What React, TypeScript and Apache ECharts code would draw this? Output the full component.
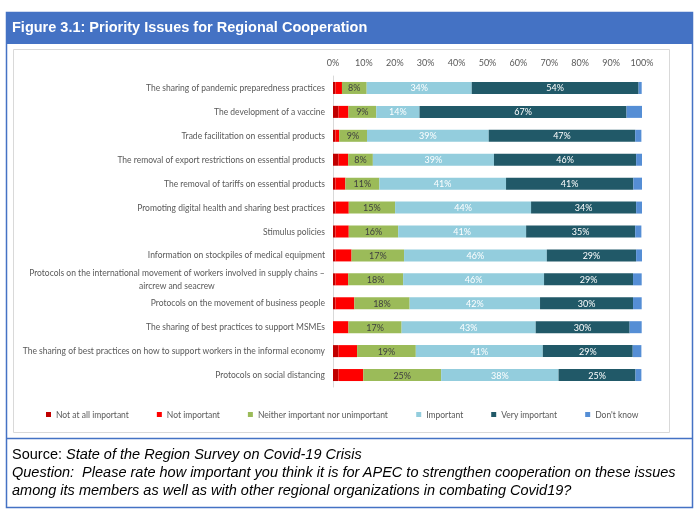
import React, { useEffect, useRef } from "react";
import * as echarts from "echarts";

const categories = [
  "The sharing of pandemic preparedness practices",
  "The development of a vaccine",
  "Trade facilitation on essential products",
  "The removal of export restrictions on essential products",
  "The removal of tariffs on essential products",
  "Promoting digital health and sharing best practices",
  "Stimulus policies",
  "Information on stockpiles of medical equipment",
  "Protocols on the international movement of workers involved in supply chains –\naircrew and seacrew",
  "Protocols on the movement of business people",
  "The sharing of best practices to support MSMEs",
  "The sharing of best practices on how to support workers in the informal economy",
  "Protocols on social distancing",
];

const xTicks = [0, 10, 20, 30, 40, 50, 60, 70, 80, 90, 100];

const seriesNames = [
  "Not at all important",
  "Not important",
  "Neither important nor unimportant",
  "Important",
  "Very important",
  "Don't know",
];

const notAtAll = [0.8, 1.8, 0.8, 1.8, 0.8, 0.8, 0.8, 0.8, 0.8, 0.8, 0, 1.8, 1.8];
const notImportant = [2.1, 3.2, 1.2, 3.1, 3.2, 4.3, 4.3, 5.2, 4.1, 6.1, 5, 6, 8];
const neither = [8, 9, 9, 8, 11, 15, 16, 17, 17.8, 17.9, 17.2, 19, 25.2];
const important = [34, 14, 39.4, 39.2, 41, 44, 41.4, 46.2, 45.6, 42.2, 43.4, 41.1, 38];
const veryImportant = [54, 67, 47.4, 46, 41.2, 34, 35.3, 28.9, 28.8, 30.1, 30.4, 29.1, 24.9];
const dontKnow = [1, 5, 2, 2, 2.8, 1.9, 2, 2, 2.8, 2.8, 3.9, 2.8, 1.9];

const colors = ["#C00000", "#FF0000", "#9BBB59", "#93CDDD", "#215968", "#558ED5"];

const labelFont = "Lato";

export default function App() {
  const ref = useRef<HTMLDivElement>(null);
  useEffect(() => {
    if (!ref.current) return;
    const chart = echarts.init(ref.current, undefined, { renderer: "svg" });
    const values = [notAtAll, notImportant, neither, important, veryImportant, dontKnow];
    const labelColors: (string | null)[] = [null, null, "#404040", "#ffffff", "#ffffff", null];
    chart.setOption({
      animation: false,
      color: colors,
      graphic: [
        {
          type: "rect",
          z: -10,
          shape: { x: 6.5, y: 12.5, width: 686, height: 495 },
          style: { fill: "#ffffff", stroke: "#4472C4", lineWidth: 1.5 },
        },
        {
          type: "rect",
          z: -9,
          shape: { x: 6, y: 12, width: 687, height: 32 },
          style: { fill: "#4472C4" },
        },
        {
          type: "rect",
          z: -9,
          shape: { x: 13.5, y: 49.5, width: 656, height: 383 },
          style: { fill: "#ffffff", stroke: "#D9D9D9", lineWidth: 1 },
        },
        {
          type: "line",
          z: -9,
          shape: { x1: 6, y1: 438.5, x2: 693, y2: 438.5 },
          style: { stroke: "#4472C4", lineWidth: 1.5 },
        },
        {
          type: "text",
          x: 12,
          y: 27,
          style: {
            text: "Figure 3.1: Priority Issues for Regional Cooperation",
            fill: "#ffffff",
            font: "bold 14.5px 'Liberation Sans', Arial, sans-serif",
            verticalAlign: "middle",
          },
        },
        {
          type: "text",
          x: 12,
          y: 454,
          style: {
            text: "{r|Source: }{i|State of the Region Survey on Covid-19 Crisis}",
            verticalAlign: "middle",
            rich: {
              r: { fontFamily: "Liberation Sans", fontSize: 14.5, fill: "#000000", fontStyle: "normal" },
              i: { fontFamily: "Liberation Sans", fontSize: 14.5, fill: "#000000", fontStyle: "italic" },
            },
          },
        },
        {
          type: "text",
          x: 12,
          y: 472,
          style: {
            text: "Question:  Please rate how important you think it is for APEC to strengthen cooperation on these issues",
            fill: "#000000",
            font: "italic 14.5px 'Liberation Sans', Arial, sans-serif",
            verticalAlign: "middle",
          },
        },
        {
          type: "text",
          x: 12,
          y: 490,
          style: {
            text: "among its members as well as with other regional organizations in combating Covid19?",
            fill: "#000000",
            font: "italic 14.5px 'Liberation Sans', Arial, sans-serif",
            verticalAlign: "middle",
          },
        },
      ],
      legend: {
        data: seriesNames,
        left: 41,
        top: 405,
        icon: "rect",
        itemWidth: 5,
        itemHeight: 5,
        itemGap: 28,
        textStyle: { fontFamily: labelFont, fontSize: 8.5, color: "#595959" },
      },
      grid: { left: 333, right: 58, top: 76, bottom: 127, containLabel: false },
      xAxis: {
        type: "value",
        position: "top",
        min: xTicks[0],
        max: xTicks[xTicks.length - 1],
        interval: 10,
        axisLine: { show: false },
        axisTick: { show: false },
        splitLine: { show: false },
        axisLabel: {
          formatter: "{value}%",
          fontFamily: labelFont,
          fontSize: 9,
          color: "#595959",
          margin: 9,
        },
      },
      yAxis: {
        type: "category",
        data: categories,
        inverse: true,
        axisLine: { show: true, lineStyle: { color: "#D9D9D9", width: 1 } },
        axisTick: { show: false },
        axisLabel: {
          margin: 8,
          color: "#595959",
          fontFamily: labelFont,
          fontSize: 8.5,
          lineHeight: 13,
          formatter: (v: string) => {
            const parts = v.split("\n");
            if (parts.length === 1) return v;
            return parts.map((p) => "{c|" + p + "}").join("\n");
          },
          rich: {
            c: {
              align: "center",
              color: "#595959",
              fontFamily: labelFont,
              fontSize: 8.5,
              lineHeight: 13,
            },
          },
        },
      },
      series: seriesNames.map((name, i) => ({
        name,
        type: "bar",
        stack: "total",
        barWidth: 12,
        data: values[i],
        itemStyle: { color: colors[i] },
        label: labelColors[i]
          ? {
              show: true,
              position: "inside",
              color: labelColors[i],
              fontFamily: labelFont,
              fontSize: 9,
              formatter: (p: any) => Math.round(p.value) + "%",
            }
          : { show: false },
      })),
    });
    return () => chart.dispose();
  }, []);
  return (
    <div
      ref={ref}
      style={{ position: "fixed", left: 0, top: 0, width: 700, height: 514 }}
    />
  );
}
